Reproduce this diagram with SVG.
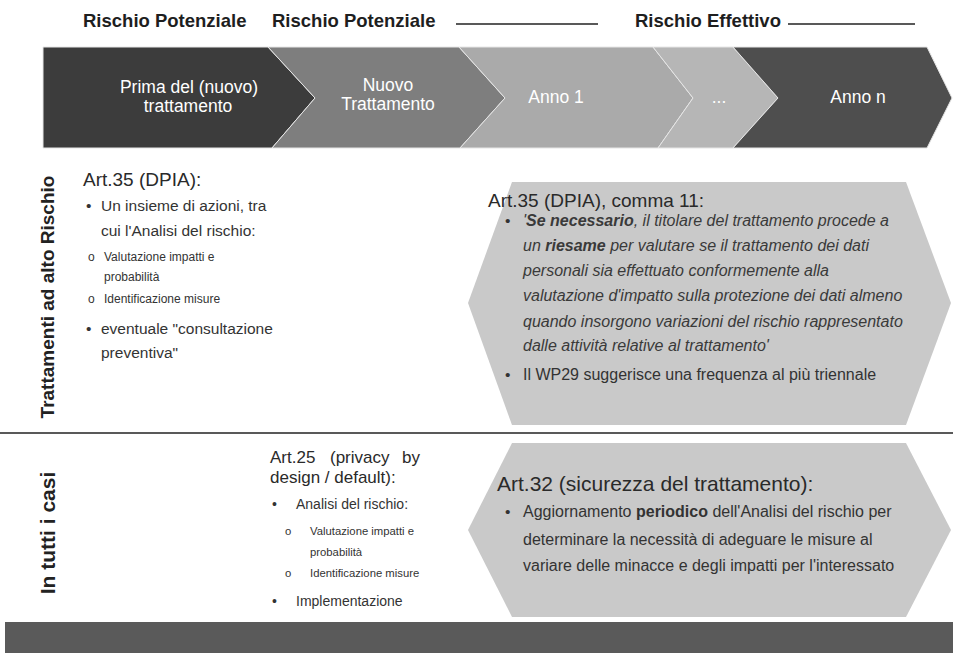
<svg xmlns="http://www.w3.org/2000/svg" width="953" height="653" viewBox="0 0 953 653">
<style>
text{font-family:"Liberation Sans",Arial,sans-serif;}
.hdr{font-size:18.5px;font-weight:bold;fill:#1e1e1e;}
.chv{font-size:17.5px;fill:#ffffff;text-anchor:middle;}
.side{font-size:19px;font-weight:bold;fill:#222;text-anchor:middle;}
.art{font-size:19px;fill:#2a2a2a;}
.art25{font-size:17px;fill:#2a2a2a;}
.b1{font-size:15.5px;fill:#333;}
.b2{font-size:12px;fill:#333;}
.c1{font-size:14px;fill:#333;}
.c2{font-size:11.3px;fill:#333;}
.d1{font-size:16px;fill:#333;}
.it{font-size:16px;font-style:italic;fill:#3a3a3a;}
.hx{fill:#c9c9c9;}
.rule{stroke:#222;stroke-width:1.6;}
</style>
<rect width="953" height="653" fill="#ffffff"/>
<g id="header">
<text class="hdr" x="83" y="27">Rischio Potenziale</text>
<text class="hdr" x="272" y="27">Rischio Potenziale</text>
<text class="hdr" x="635" y="27">Rischio Effettivo</text>
<line class="rule" x1="456" y1="24" x2="598" y2="24"/>
<line class="rule" x1="788" y1="24" x2="915" y2="24"/>
</g>
<g id="band" stroke="#e6e6e6" stroke-width="1">
<g id="chevron1"><polygon points="43,47 268,47 315,98 272,148 43,148" fill="#3c3c3c"/>
<text class="chv" x="189" y="93" stroke="none">Prima del (nuovo)</text><text class="chv" x="188" y="112" stroke="none">trattamento</text></g>
<g id="chevron2"><polygon points="268,47 459,47 505,98 460,148 272,148 315,98" fill="#7e7e7e"/>
<text class="chv" x="388" y="91" stroke="none">Nuovo</text><text class="chv" x="388" y="110" stroke="none">Trattamento</text></g>
<g id="chevron3"><polygon points="459,47 653,47 693,98 658,148 460,148 505,98" fill="#aaaaaa"/>
<text class="chv" x="556" y="103" stroke="none">Anno 1</text></g>
<g id="chevron4"><polygon points="653,47 733,47 778,98 733,148 658,148 693,98" fill="#b6b6b6"/>
<text class="chv" x="719" y="103" stroke="none">...</text></g>
<g id="chevron5"><polygon points="733,47 927,47 952,98 927,148 733,148 778,98" fill="#4e4e4e"/>
<text class="chv" x="858" y="103" stroke="none">Anno n</text></g>
</g>
<g id="rows">
<text class="side" transform="translate(54,297) rotate(-90)">Trattamenti ad alto Rischio</text>
<text class="side" style="font-size:21px" transform="translate(55,533) rotate(-90)">In tutti i casi</text>
<line class="rule" x1="0" y1="433" x2="953" y2="433" stroke-width="2"/>
<rect id="bottom-bar" x="5" y="622" width="948" height="31" fill="#5a5a5a"/>
</g>
<g id="dpia">
<text class="art" x="83" y="186">Art.35 (DPIA):</text>
<text class="b1" x="86" y="211">•</text><text class="b1" x="101" y="211">Un insieme di azioni, tra</text>
<text class="b1" x="101" y="236">cui l'Analisi del rischio:</text>
<text class="b2" x="88" y="261">o</text><text class="b2" x="104" y="261">Valutazione impatti e</text>
<text class="b2" x="104" y="281">probabilità</text>
<text class="b2" x="88" y="303">o</text><text class="b2" x="104" y="303">Identificazione misure</text>
<text class="b1" x="86" y="334">•</text><text class="b1" x="101" y="334">eventuale "consultazione</text>
<text class="b1" x="101" y="358">preventiva"</text>
</g>
<g id="art35-11">
<polygon class="hx" points="512,182 906,182 951,303 906,425 512,425 468,303"/>
<text class="art" x="488" y="207">Art.35 (DPIA), comma 11:</text>
<text class="b1" x="505" y="226">•</text>
<text class="it" x="523" y="226">'<tspan font-weight="bold">Se necessario</tspan>, il titolare del trattamento procede a</text>
<text class="it" x="523" y="251">un <tspan font-weight="bold">riesame</tspan> per valutare se il trattamento dei dati</text>
<text class="it" x="523" y="276">personali sia effettuato conformemente alla</text>
<text class="it" x="523" y="301">valutazione d'impatto sulla protezione dei dati almeno</text>
<text class="it" x="523" y="327">quando insorgono variazioni del rischio rappresentato</text>
<text class="it" x="523" y="351">dalle attività relative al trattamento'</text>
<text class="b1" x="505" y="380">•</text>
<text class="d1" x="523" y="380">Il WP29 suggerisce una frequenza al più triennale</text>
</g>
<g id="art25">
<text class="art25" x="270" y="463">Art.25</text>
<text class="art25" x="330" y="463">(privacy</text>
<text class="art25" x="402" y="463">by</text>
<text class="art25" x="270" y="483">design / default):</text>
<text class="c1" x="272" y="509">•</text><text class="c1" x="296" y="509">Analisi del rischio:</text>
<text class="c2" x="285" y="535">o</text><text class="c2" x="310" y="535">Valutazione impatti e</text>
<text class="c2" x="310" y="556">probabilità</text>
<text class="c2" x="285" y="577">o</text><text class="c2" x="310" y="577">Identificazione misure</text>
<text class="c1" x="272" y="606">•</text><text class="c1" x="296" y="606">Implementazione</text>
</g>
<g id="art32">
<polygon class="hx" points="512,443 906,443 951,530 906,617 512,617 468,530"/>
<text class="art" style="font-size:21px" x="497" y="491">Art.32 (sicurezza del trattamento):</text>
<text class="b1" x="505" y="517">•</text>
<text class="d1" x="523" y="517">Aggiornamento <tspan font-weight="bold">periodico</tspan> dell'Analisi del rischio per</text>
<text class="d1" x="523" y="545">determinare la necessità di adeguare le misure al</text>
<text class="d1" x="523" y="571">variare delle minacce e degli impatti per l'interessato</text>
</g>
<g id="connectors"></g>
</svg>
